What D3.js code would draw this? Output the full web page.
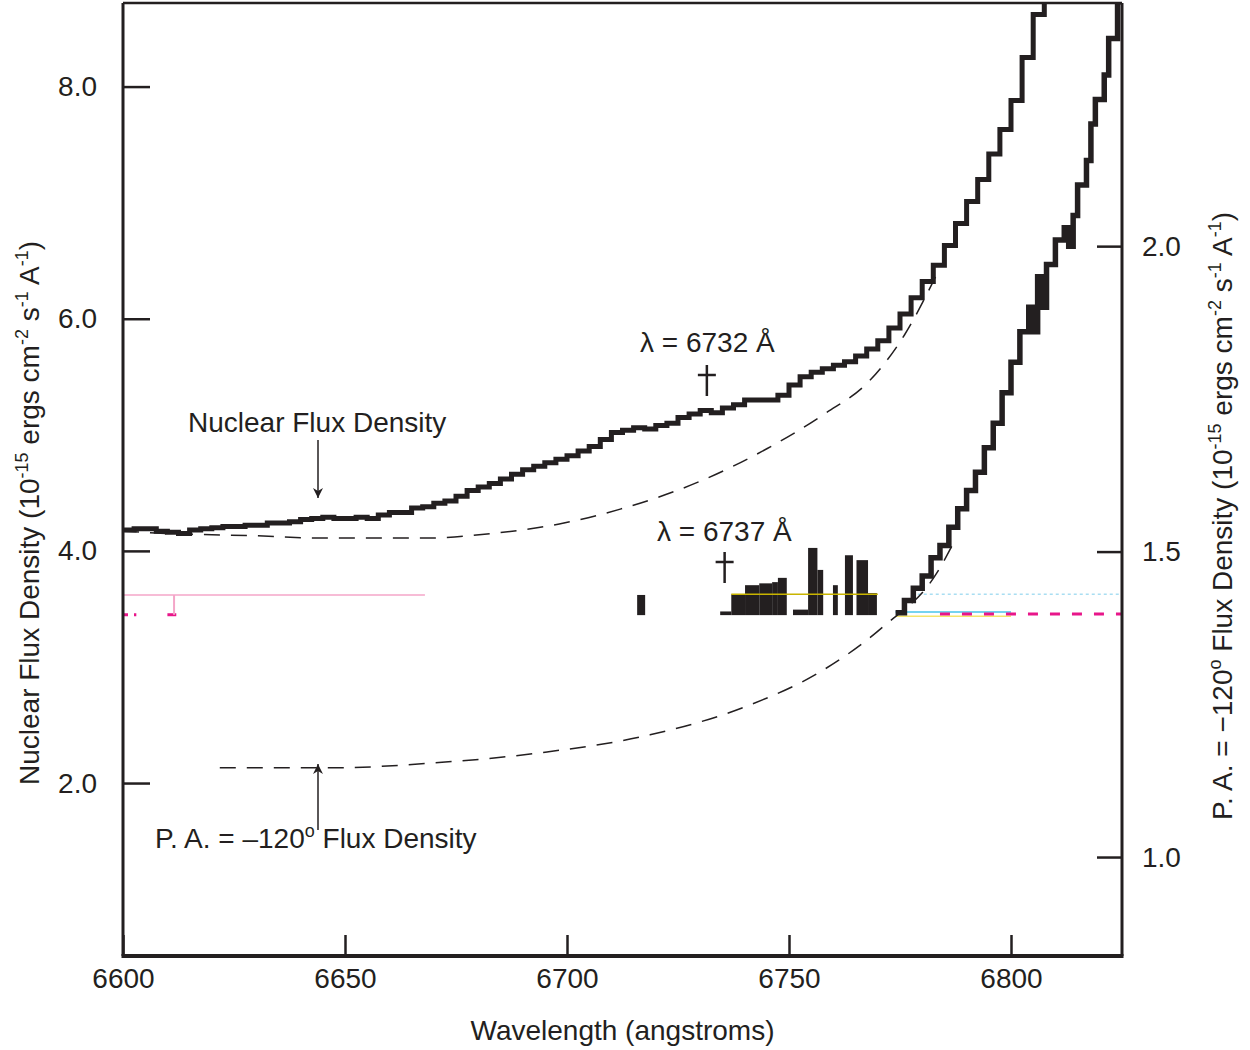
<!DOCTYPE html>
<html>
<head>
<meta charset="utf-8">
<script src="https://cdn.jsdelivr.net/npm/d3@7"></script>
<style>
  body { margin: 0; background: #fff; }
  text { font-family: "Liberation Sans", Arial, sans-serif; fill: #231f20; }
</style>
</head>
<body>
<div id="chart"></div>
<script>
// ---- data ----
const nucWl = [6600,6602.5,6605,6607.5,6610,6612.5,6615,6617.5,6620,6622.5,6625,6627.5,6630,6632.5,6635,6637.5,
  6640,6642.5,6645,6647.5,6650,6652.5,6655,6657.5,6660,6662.5,6665,6667.5,6670,6672.5,6675,6677.5,
  6680,6682.5,6685,6687.5,6690,6692.5,6695,6697.5,6700,6702.5,6705,6707.5,6710,6712.5,6715,6717.5,
  6720,6722.5,6725,6727.5,6730,6732.5,6735,6737.5,6740,6742.5,6745,6747.5,6750,6752.5,6755,6757.5,
  6760,6762.5,6765,6767.5,6770,6772.5,6775,6777.5,6780,6782.5,6785,6787.5,6790,6792.5,6795,6797.5,
  6800,6802.5,6805,6807.5];
const nucFlux = [4.18,4.19,4.19,4.17,4.16,4.15,4.18,4.19,4.20,4.21,4.21,4.22,4.22,4.24,4.24,4.25,
  4.27,4.28,4.29,4.28,4.28,4.29,4.28,4.31,4.33,4.33,4.37,4.38,4.41,4.43,4.47,4.52,
  4.55,4.58,4.62,4.66,4.70,4.73,4.76,4.79,4.82,4.86,4.90,4.96,5.02,5.04,5.06,5.05,
  5.08,5.10,5.15,5.18,5.21,5.19,5.23,5.26,5.30,5.30,5.30,5.34,5.43,5.50,5.54,5.57,
  5.60,5.63,5.68,5.74,5.81,5.92,6.04,6.18,6.32,6.46,6.63,6.82,7.01,7.20,7.42,7.63,
  7.88,8.25,8.62,8.90];

const nucFitWl = [6600,6610,6630,6645,6668,6683,6698,6712,6730,6745,6758,6768,6776,6783];
const nucFit   = [4.17,4.15,4.13,4.11,4.11,4.15,4.23,4.36,4.60,4.88,5.18,5.46,5.86,6.36];

const paWl   = [6774,6776,6778,6780,6782,6784,6786,6788,6790,6792,6794,6796,6798,6800,6802,6804,
  6805,6806,6807,6808,6810,6812,6813,6814,6815,6817,6818,6819,6821,6822,6824,6826];
const paFlux = [1.40,1.42,1.44,1.46,1.49,1.51,1.54,1.57,1.60,1.63,1.67,1.71,1.76,1.81,1.86,1.90,
  1.86,1.95,1.90,1.97,2.01,2.03,2.00,2.05,2.10,2.14,2.20,2.24,2.28,2.34,2.40,2.45];

const paFitWl = [6621.8,6647.3,6669.8,6695.5,6718.7,6741.2,6757.0,6771.2,6783.3,6787.4];
const paFit   = [1.146,1.146,1.154,1.172,1.200,1.249,1.303,1.377,1.465,1.519];

// partly visible P.A. bins inside the damaged strip (right axis)
const stripStart = [6715.8,6734.5,6737.0,6740.1,6743.3,6746.2,6747.5,6750.9,6754.3,6756.4,6759.9,6762.6,6765.2,6767.8];
const stripEnd   = [6717.6,6737.0,6740.1,6743.3,6746.2,6747.5,6749.5,6754.3,6756.4,6757.7,6761.0,6764.4,6767.8,6769.8];
const stripTop   = [1.429,1.402,1.430,1.445,1.448,1.450,1.457,1.405,1.506,1.470,1.445,1.494,1.486,1.432];
const stripBase  = 1.396;

const leftTicks  = [2.0, 4.0, 6.0, 8.0];
const rightTicks = [1.0, 1.5, 2.0];
const xTicks     = [6600, 6650, 6700, 6750, 6800];

// ---- layout ----
const W = 1250, H = 1050;
const plot = {left: 123, right: 1122, top: 3, bottom: 956};

const svg = d3.select("#chart").append("svg")
  .attr("width", W).attr("height", H);

const x  = d3.scaleLinear().domain([6600, 6825]).range([plot.left, plot.right]);
const yL = d3.scaleLinear().domain([0.51, 8.72]).range([plot.bottom, plot.top]);
const yR = d3.scaleLinear().domain([0.838, 2.398]).range([plot.bottom, plot.top]);

svg.append("clipPath").attr("id", "clip")
  .append("rect")
    .attr("x", plot.left).attr("y", plot.top)
    .attr("width", plot.right - plot.left).attr("height", plot.bottom - plot.top);

const g = svg.append("g").attr("clip-path", "url(#clip)");

// scan artefacts (faint coloured rules near 3.5)
const artL = g.append("g");
artL.append("line")
  .attr("x1", x(6600)).attr("x2", x(6668))
  .attr("y1", yL(3.62)).attr("y2", yL(3.62))
  .attr("stroke", "#f4a6c8").attr("stroke-width", 1.5);
artL.append("line")
  .attr("x1", x(6600)).attr("x2", x(6603))
  .attr("y1", yL(3.45)).attr("y2", yL(3.45))
  .attr("stroke", "#e8168a").attr("stroke-width", 3).attr("stroke-dasharray", "5,6");
artL.append("line")
  .attr("x1", x(6610)).attr("x2", x(6612))
  .attr("y1", yL(3.45)).attr("y2", yL(3.45))
  .attr("stroke", "#e8168a").attr("stroke-width", 3);
artL.append("line")
  .attr("x1", x(6611.5)).attr("x2", x(6611.5))
  .attr("y1", yL(3.45)).attr("y2", yL(3.62))
  .attr("stroke", "#f4a6c8").attr("stroke-width", 2);

// damaged strip bars
g.selectAll(".strip")
  .data(stripStart.map((s, i) => ({s, e: stripEnd[i], t: stripTop[i]})))
  .enter().append("rect")
    .attr("x", d => x(d.s))
    .attr("width", d => x(d.e) - x(d.s))
    .attr("y", d => yR(d.t))
    .attr("height", d => yR(stripBase) - yR(d.t))
    .attr("fill", "#231f20");
g.append("line")
  .attr("x1", x(6737)).attr("x2", x(6770))
  .attr("y1", yR(1.43)).attr("y2", yR(1.43))
  .attr("stroke", "#c8b400").attr("stroke-width", 1.5);

const artR = g.append("g");
artR.append("line")
  .attr("x1", x(6774)).attr("x2", x(6800))
  .attr("y1", yR(1.401)).attr("y2", yR(1.401))
  .attr("stroke", "#49c4ea").attr("stroke-width", 1.5);
artR.append("line")
  .attr("x1", x(6774)).attr("x2", x(6800))
  .attr("y1", yR(1.394)).attr("y2", yR(1.394))
  .attr("stroke", "#f5e56b").attr("stroke-width", 1.5);
artR.append("line")
  .attr("x1", x(6779)).attr("x2", x(6830))
  .attr("y1", yR(1.43)).attr("y2", yR(1.43))
  .attr("stroke", "#a9def2").attr("stroke-width", 1.5).attr("stroke-dasharray", "3,3");
artR.append("line")
  .attr("x1", x(6784)).attr("x2", x(6830))
  .attr("y1", yR(1.398)).attr("y2", yR(1.398))
  .attr("stroke", "#e8168a").attr("stroke-width", 3).attr("stroke-dasharray", "10,12");

// fitted continua (dashed)
const nucFitLine = d3.line().x(d => x(d[0])).y(d => yL(d[1])).curve(d3.curveMonotoneX);
g.append("path")
  .datum(nucFitWl.map((w, i) => [w, nucFit[i]]))
  .attr("d", nucFitLine)
  .attr("fill", "none").attr("stroke", "#231f20")
  .attr("stroke-width", 1.5).attr("stroke-dasharray", "16,11");

const paFitLine = d3.line().x(d => x(d[0])).y(d => yR(d[1])).curve(d3.curveMonotoneX);
g.append("path")
  .datum(paFitWl.map((w, i) => [w, paFit[i]]))
  .attr("d", paFitLine)
  .attr("fill", "none").attr("stroke", "#231f20")
  .attr("stroke-width", 1.5).attr("stroke-dasharray", "16,11");

// spectra (stepped)
const nucLine = d3.line().x(d => x(d[0])).y(d => yL(d[1])).curve(d3.curveStepAfter);
g.append("path")
  .datum(nucWl.map((w, i) => [w, nucFlux[i]]))
  .attr("d", nucLine)
  .attr("fill", "none").attr("stroke", "#231f20").attr("stroke-width", 5);

const paLine = d3.line().x(d => x(d[0])).y(d => yR(d[1])).curve(d3.curveStepAfter);
g.append("path")
  .datum(paWl.map((w, i) => [w, paFlux[i]]))
  .attr("d", paLine)
  .attr("fill", "none").attr("stroke", "#231f20").attr("stroke-width", 5.5);

// ---- axes ----
const fmt = d3.format(".1f");

const axL = svg.append("g")
  .attr("transform", `translate(${plot.left},0)`)
  .call(d3.axisLeft(yL).tickValues(leftTicks).tickFormat(fmt).tickSize(-27).tickPadding(26));
const axR = svg.append("g")
  .attr("transform", `translate(${plot.right},0)`)
  .call(d3.axisRight(yR).tickValues(rightTicks).tickFormat(fmt).tickSize(-25).tickPadding(20));
const axB = svg.append("g")
  .attr("transform", `translate(0,${plot.bottom})`)
  .call(d3.axisBottom(x).tickValues(xTicks).tickFormat(d3.format("d")).tickSize(-21).tickPadding(12));

[axL, axR, axB].forEach(a => {
  a.select(".domain").remove();
  a.selectAll(".tick line").attr("stroke", "#231f20").attr("stroke-width", 2.5);
  a.selectAll(".tick text")
    .style("font-family", '"Liberation Sans", Arial, sans-serif')
    .style("font-size", "28px").attr("fill", "#231f20");
});

// frame
const frame = svg.append("g").attr("stroke", "#231f20").attr("fill", "none");
frame.append("line").attr("x1", plot.left).attr("x2", plot.left)
  .attr("y1", plot.top).attr("y2", plot.bottom).attr("stroke-width", 3);
frame.append("line").attr("x1", plot.right).attr("x2", plot.right)
  .attr("y1", plot.top).attr("y2", plot.bottom).attr("stroke-width", 3);
frame.append("line").attr("x1", plot.left).attr("x2", plot.right)
  .attr("y1", plot.top).attr("y2", plot.top).attr("stroke-width", 2.5);
frame.append("line").attr("x1", plot.left - 1.5).attr("x2", plot.right + 1.5)
  .attr("y1", plot.bottom).attr("y2", plot.bottom).attr("stroke-width", 4);

// ---- axis titles ----
svg.append("text")
  .attr("x", (plot.left + plot.right) / 2).attr("y", 1040)
  .attr("text-anchor", "middle").style("font-size", "28px")
  .text("Wavelength (angstroms)");

function unitsLabel(sel, pre) {
  sel.append("tspan").text(pre + "(10");
  sel.append("tspan").attr("dy", -11).style("font-size", "18px").text("-15");
  sel.append("tspan").attr("dy", 11).text(" ergs cm");
  sel.append("tspan").attr("dy", -11).style("font-size", "18px").text("-2");
  sel.append("tspan").attr("dy", 11).text(" s");
  sel.append("tspan").attr("dy", -11).style("font-size", "18px").text("-1");
  sel.append("tspan").attr("dy", 11).text(" A");
  sel.append("tspan").attr("dy", -11).style("font-size", "18px").text("-1");
  sel.append("tspan").attr("dy", 11).text(")");
}

const tL = svg.append("text")
  .attr("transform", "translate(39,513) rotate(-90)")
  .attr("text-anchor", "middle").style("font-size", "28px");
unitsLabel(tL, "Nuclear Flux Density ");

const tR = svg.append("text")
  .attr("transform", "translate(1232,516) rotate(-90)")
  .attr("text-anchor", "middle").style("font-size", "28px");
tR.append("tspan").text("P. A. = \u2212120");
tR.append("tspan").attr("dy", -11).style("font-size", "18px").text("o");
tR.append("tspan").attr("dy", 11).text(" Flux Density  ");
unitsLabel(tR, "");

// ---- annotations ----
svg.append("defs").append("marker")
  .attr("id", "arrow").attr("viewBox", "0 0 10 10")
  .attr("refX", 10).attr("refY", 5)
  .attr("markerWidth", 10).attr("markerHeight", 14)
  .attr("markerUnits", "userSpaceOnUse")
  .attr("orient", "auto")
  .append("path").attr("d", "M0,0 L10,5 L0,10 L3,5 Z").attr("fill", "#231f20");

svg.append("text").attr("x", 188).attr("y", 432)
  .style("font-size", "28px").text("Nuclear Flux Density");
svg.append("line")
  .attr("x1", 318).attr("x2", 318).attr("y1", 440).attr("y2", 498)
  .attr("stroke", "#231f20").attr("stroke-width", 1.5).attr("marker-end", "url(#arrow)");

svg.append("text").attr("x", 155).attr("y", 848)
  .style("font-size", "28px")
  .call(t => {
    t.append("tspan").text("P. A. = \u2013120");
    t.append("tspan").attr("dy", -11).style("font-size", "18px").text("o");
    t.append("tspan").attr("dy", 11).text(" Flux Density");
  });
svg.append("line")
  .attr("x1", 318).attr("x2", 318).attr("y1", 830).attr("y2", 764)
  .attr("stroke", "#231f20").attr("stroke-width", 1.5).attr("marker-end", "url(#arrow)");

function dagger(cx, top) {
  svg.append("line").attr("x1", cx).attr("x2", cx).attr("y1", top).attr("y2", top + 31)
    .attr("stroke", "#231f20").attr("stroke-width", 2.5);
  svg.append("line").attr("x1", cx - 9).attr("x2", cx + 9).attr("y1", top + 10).attr("y2", top + 10)
    .attr("stroke", "#231f20").attr("stroke-width", 2.5);
}
svg.append("text").attr("x", 640).attr("y", 352)
  .style("font-size", "28px").text("\u03bb = 6732 \u00c5");
dagger(x(6731.5), 365);

svg.append("text").attr("x", 657).attr("y", 541)
  .style("font-size", "28px").text("\u03bb = 6737 \u00c5");
dagger(x(6735.5), 552);
</script>
</body>
</html>
